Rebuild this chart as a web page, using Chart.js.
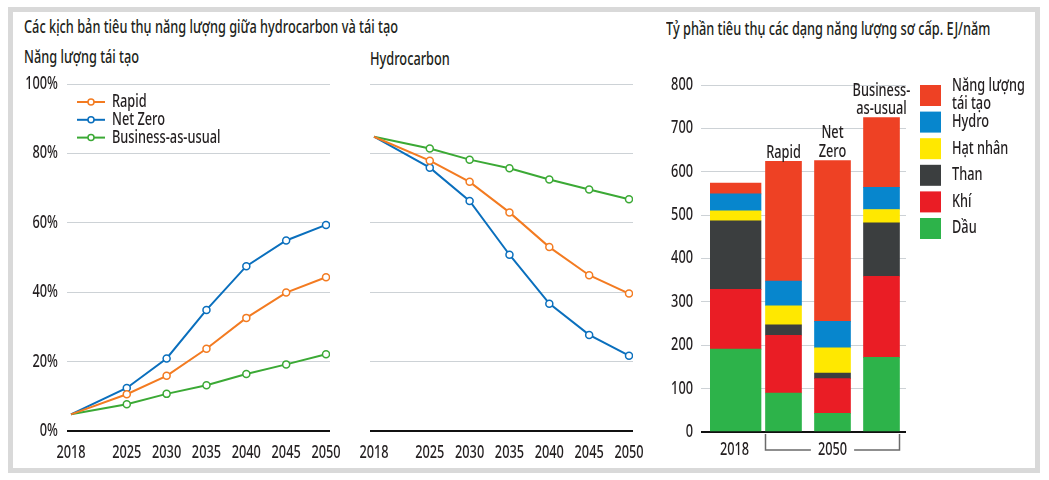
<!DOCTYPE html>
<html lang="vi">
<head>
<meta charset="utf-8">
<title>Kịch bản tiêu thụ năng lượng</title>
<script src="https://cdn.jsdelivr.net/npm/chart.js@4.4.1/dist/chart.umd.min.js"></script>
<style>
body{margin:0;background:#fff;font-family:'Noto Sans',sans-serif;font-weight:500;color:#231f20;}
#frame{position:absolute;left:8px;top:7px;width:1022px;height:456px;border:5px solid #d9d9d9;}
.txt{position:absolute;font-size:17.5px;line-height:20px;white-space:nowrap;transform-origin:0 0;}
canvas{position:absolute;}
</style>
</head>
<body>
<div id="frame"></div>
<div class="txt" id="mainTitle" style="left:24px;top:16px">Các kịch bản tiêu thụ năng lượng giữa hydrocarbon và tái tạo</div>
<div class="txt" style="left:24px;top:46px">Năng lượng tái tạo</div>
<div class="txt" style="left:370px;top:48px">Hydrocarbon</div>
<div class="txt" style="left:666px;top:18px">Tỷ phần tiêu thụ các dạng năng lượng sơ cấp. EJ/năm</div>
<canvas id="renewChart" width="345" height="420" style="left:0;top:60px"></canvas>
<canvas id="hydroChart" width="300" height="420" style="left:345px;top:60px"></canvas>
<canvas id="mixChart" width="395" height="420" style="left:645px;top:60px"></canvas>
<script>
// ------------------- Data -------------------
const years = [2018, 2025, 2030, 2035, 2040, 2045, 2050];
const scenarioNames = ["Rapid", "Net Zero", "Business-as-usual"];
const scenarioColors = ["#f37b21", "#0a6fbd", "#3ba935"];

// share of renewables, %
const renewRapid   = [4.8, 10.6, 15.9, 23.7, 32.6, 39.9, 44.3];
const renewNetZero = [4.8, 12.4, 20.9, 34.9, 47.5, 54.9, 59.4];
const renewBau     = [4.8, 7.7, 10.7, 13.2, 16.4, 19.2, 22.1];

// share of hydrocarbons, %
const hydroRapid   = [84.8, 77.9, 71.8, 63.0, 53.0, 44.9, 39.6];
const hydroNetZero = [84.8, 75.9, 66.3, 50.8, 36.7, 27.7, 21.7];
const hydroBau     = [84.8, 81.4, 78.2, 75.7, 72.5, 69.6, 66.8];

// primary energy, EJ/year: 2018, Rapid 2050, Net Zero 2050, BAU 2050
const barCats = ["2018", "Rapid", "Net Zero", "Business-as-usual"];
const barTopLabels = [[], ["Rapid"], ["Net", "Zero"], ["Business-", "as-usual"]];
const barXLabels = ["2018", "", "2050", ""];
const energyNames = ["Dầu", "Khí", "Than", "Hạt nhân", "Hydro", "Năng lượng tái tạo"];
const energyColors = ["#2db34a", "#ea1d25", "#3b3e3f", "#ffe800", "#0786cd", "#ee4124"];
const oil        = [191, 90, 43, 172];
const gas        = [138, 133, 80, 187];
const coal       = [158, 24, 13, 123];
const nuclear    = [23, 44, 58, 31];
const hydroPower = [39, 57, 61, 51];
const renewables = [25, 276, 371, 161];

const FONT = "'Noto Sans', sans-serif";
const FONT_PX = 17.5;
const CANVAS_FONT = "500 " + FONT_PX + "px " + FONT;
const INK = "#231f20";
Chart.defaults.font.family = FONT;
Chart.defaults.color = INK;

// no condensed face is installed, so squeeze the text sideways to the width of the original
const measureCtx = document.createElement("canvas").getContext("2d");
measureCtx.font = CANVAS_FONT;
const SQUEEZE = 374 / measureCtx.measureText(document.getElementById("mainTitle").textContent).width;
document.querySelectorAll(".txt").forEach(el=>{ el.style.transform = "scaleX(" + SQUEEZE + ")"; });

function squeezeText(ctx, text, x, y, align, baseline){
  ctx.save();
  ctx.translate(x, y);
  ctx.scale(SQUEEZE, 1);
  ctx.textAlign = align;
  ctx.textBaseline = baseline;
  ctx.fillText(text, 0, 0);
  ctx.restore();
}

// ------------------- Plugins -------------------
const squeezedTicks = {
  id: "squeezedTicks",
  afterDraw(chart, args, opts){
    const ctx = chart.ctx, a = chart.chartArea;
    const xs = chart.scales.x, ys = chart.scales.y;
    ctx.save();
    ctx.font = CANVAS_FONT;
    ctx.fillStyle = INK;
    if(opts.yLabels){
      ys.ticks.forEach(t=>squeezeText(ctx, String(t.label), a.left - opts.yGap, ys.getPixelForValue(t.value), "right", "middle"));
    }
    xs.ticks.forEach(t=>{
      if(t.label === "") return;
      squeezeText(ctx, String(t.label), xs.getPixelForValue(t.value), a.bottom + opts.xGap, "center", "middle");
    });
    ctx.restore();
  }
};

const lineKey = {
  id: "lineKey",
  afterDraw(chart, args, opts){
    if(!opts.show) return;
    const ctx = chart.ctx, a = chart.chartArea;
    ctx.save();
    ctx.font = CANVAS_FONT;
    chart.data.datasets.forEach((ds, i)=>{
      const y = a.top + 18 + i*17.8;
      const x = a.left + 10;
      ctx.strokeStyle = ds.borderColor;
      ctx.lineWidth = 2;
      ctx.beginPath(); ctx.moveTo(x, y); ctx.lineTo(x+28, y); ctx.stroke();
      ctx.fillStyle = "#fff";
      ctx.lineWidth = 1.5;
      ctx.beginPath(); ctx.arc(x+14, y, 3, 0, Math.PI*2); ctx.fill(); ctx.stroke();
      ctx.fillStyle = INK;
      squeezeText(ctx, ds.label, x+35, y, "left", "middle");
    });
    ctx.restore();
  }
};

const barExtras = {
  id: "barExtras",
  afterDraw(chart){
    const ctx = chart.ctx, a = chart.chartArea;
    const xs = chart.scales.x, ys = chart.scales.y;
    ctx.save();
    ctx.font = CANVAS_FONT;
    ctx.fillStyle = INK;
    // labels above the 2050 bars
    barCats.forEach((c, i)=>{
      const total = [oil, gas, coal, nuclear, hydroPower, renewables].reduce((s, arr)=>s+arr[i], 0);
      const x = xs.getPixelForValue(i);
      const top = ys.getPixelForValue(total);
      const lines = barTopLabels[i];
      lines.forEach((t, k)=>{
        squeezeText(ctx, t, x, top - 3.5 - (lines.length-1-k)*18.5, "center", "alphabetic");
      });
    });
    // bracket under the 2050 bars
    const half = 18;
    const x1 = xs.getPixelForValue(1) - half, x2 = xs.getPixelForValue(3) + half;
    const mid = xs.getPixelForValue(2);
    const yb = a.bottom + 18;
    const gap = ctx.measureText("2050").width*SQUEEZE/2 + 7;
    ctx.strokeStyle = "#6b6b6b";
    ctx.lineWidth = 1.5;
    ctx.beginPath();
    ctx.moveTo(x1, a.bottom + 2); ctx.lineTo(x1, yb); ctx.lineTo(mid - gap, yb);
    ctx.moveTo(mid + gap, yb); ctx.lineTo(x2, yb); ctx.lineTo(x2, a.bottom + 2);
    ctx.stroke();
    // legend
    const lx = a.right + 14;
    for(let i = energyNames.length-1, r = 0; i >= 0; i--, r++){
      const top = a.top + r*26.6;
      ctx.fillStyle = energyColors[i];
      ctx.fillRect(lx, top, 21, 21);
      ctx.fillStyle = INK;
      const words = energyNames[i].split(" ");
      const lines = [];
      let cur = "";
      words.forEach(w=>{
        const t = cur ? cur + " " + w : w;
        if(cur && ctx.measureText(t).width*SQUEEZE > 80){ lines.push(cur); cur = w; } else cur = t;
      });
      lines.push(cur);
      lines.forEach((t, k)=>{
        squeezeText(ctx, t, lx + 32, top + 10.5 + (k - (lines.length-1)/2)*18, "left", "middle");
      });
    }
    ctx.restore();
  }
};

// ------------------- Line charts -------------------
function lineChart(id, series, withLabels, yWidth, rightPad, showKey){
  return new Chart(document.getElementById(id), {
    type: "line",
    data: {
      datasets: series.map((vals, i)=>({
        label: scenarioNames[i],
        data: years.map((yr, k)=>({x: yr, y: vals[k]})),
        borderColor: scenarioColors[i],
        borderWidth: 2,
        pointRadius: c=>c.dataIndex===0 ? 0 : 3.5,
        pointBackgroundColor: "#fff",
        pointBorderColor: scenarioColors[i],
        pointBorderWidth: 1.5,
        tension: 0
      }))
    },
    options: {
      responsive: false,
      animation: false,
      layout: { padding: { top: 24, right: rightPad, left: 0, bottom: 0 } },
      plugins: {
        legend: { display: false },
        tooltip: { enabled: false },
        lineKey: { show: showKey },
        squeezedTicks: { yLabels: withLabels, yGap: 9, xGap: 22 }
      },
      scales: {
        x: {
          type: "linear", min: 2017.5, max: 2050.5,
          afterBuildTicks: s=>{ s.ticks = years.map(v=>({value: v})); },
          afterFit: s=>{ s.height = 49; },
          ticks: { display: false, autoSkip: false, callback: v=>String(v) },
          grid: { display: false },
          border: { display: false }
        },
        y: {
          min: 0, max: 100,
          afterFit: s=>{ s.width = yWidth; },
          ticks: { display: false, stepSize: 20, callback: v=>v + "%" },
          grid: {
            drawTicks: false,
            color: c=>c.tick.value===0 ? "#111" : "#cdd2d6",
            lineWidth: c=>c.tick.value===0 ? 2 : 1
          },
          border: { display: false }
        }
      }
    },
    plugins: [squeezedTicks, lineKey]
  });
}

lineChart("renewChart", [renewRapid, renewNetZero, renewBau], true, 67, 15, true);
lineChart("hydroChart", [hydroRapid, hydroNetZero, hydroBau], false, 25, 12, false);

// ------------------- Bar chart -------------------
const energySeries = [oil, gas, coal, nuclear, hydroPower, renewables];
const barDatasets = [];
energySeries.forEach((vals, i)=>{
  barDatasets.push({
    label: energyNames[i],
    data: vals.map((v, k)=>k===0 ? v : null),
    backgroundColor: energyColors[i],
    barThickness: 53
  });
  barDatasets.push({
    label: energyNames[i],
    data: vals.map((v, k)=>k===0 ? null : v),
    backgroundColor: energyColors[i],
    barThickness: 36
  });
});

new Chart(document.getElementById("mixChart"), {
  type: "bar",
  data: { labels: barCats, datasets: barDatasets },
  options: {
    responsive: false,
    animation: false,
    layout: { padding: { top: 25, right: 134, left: 0, bottom: 0 } },
    plugins: {
      legend: { display: false },
      tooltip: { enabled: false },
      squeezedTicks: { yLabels: true, yGap: 17, xGap: 18 }
    },
    scales: {
      x: {
        stacked: true,
        afterFit: s=>{ s.height = 48; },
        ticks: { display: false, callback: (v, i)=>barXLabels[i] },
        grid: { display: false },
        border: { display: false }
      },
      y: {
        stacked: true,
        min: 0, max: 800,
        afterFit: s=>{ s.width = 65; },
        ticks: { display: false, stepSize: 100 },
        grid: {
          tickLength: 9,
          color: c=>c.tick.value===0 ? "#111" : "#cdd2d6",
          lineWidth: c=>c.tick.value===0 ? 2 : 1
        },
        border: { display: false }
      }
    }
  },
  plugins: [squeezedTicks, barExtras]
});
</script>
</body>
</html>
